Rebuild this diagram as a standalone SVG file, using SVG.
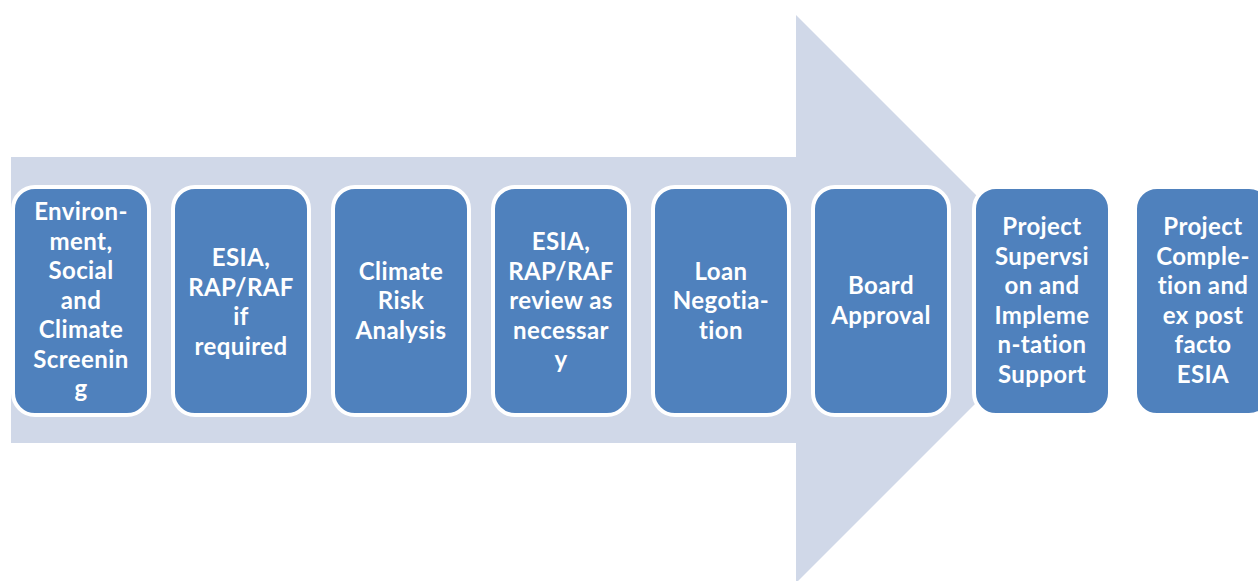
<svg xmlns="http://www.w3.org/2000/svg" width="1258" height="581" viewBox="0 0 1258 581">
<style>
.box{fill:#4F81BD;stroke:#FFFFFF;stroke-width:4}
.lbl{font-family:Lato,"Open Sans","Liberation Sans",sans-serif;font-weight:bold;font-size:24px;letter-spacing:0.4px;font-variant-ligatures:none;fill:#FFFFFF;text-anchor:middle}
</style>
<rect width="1258" height="581" fill="#FFFFFF"/>
<g id="arrow">
<polygon points="11,157 796,157 796,15 1080,299 796,583 796,443 11,443" fill="#D0D8E8"/>
</g>
<g id="connectors"></g>
<g id="n1">
<rect class="box" x="13" y="187" width="136" height="228" rx="22"/>
<text class="lbl"><tspan x="81" y="220">Environ-</tspan><tspan x="81" y="249.5">ment,</tspan><tspan x="81" y="279">Social</tspan><tspan x="81" y="308.5">and</tspan><tspan x="81" y="338">Climate</tspan><tspan x="81" y="367.5">Screenin</tspan><tspan x="81" y="397">g</tspan></text>
</g>
<g id="n2">
<rect class="box" x="173" y="187" width="136" height="228" rx="22"/>
<text class="lbl"><tspan x="241" y="266">ESIA,</tspan><tspan x="241" y="295.5">RAP/RAF</tspan><tspan x="241" y="325">if</tspan><tspan x="241" y="354.5">required</tspan></text>
</g>
<g id="n3">
<rect class="box" x="333" y="187" width="136" height="228" rx="22"/>
<text class="lbl"><tspan x="401" y="279.5">Climate</tspan><tspan x="401" y="309">Risk</tspan><tspan x="401" y="338.5">Analysis</tspan></text>
</g>
<g id="n4">
<rect class="box" x="493" y="187" width="136" height="228" rx="22"/>
<text class="lbl"><tspan x="561" y="250">ESIA,</tspan><tspan x="561" y="279.5">RAP/RAF</tspan><tspan x="561" y="309">review as</tspan><tspan x="561" y="338.5">necessar</tspan><tspan x="561" y="368">y</tspan></text>
</g>
<g id="n5">
<rect class="box" x="653" y="187" width="136" height="228" rx="22"/>
<text class="lbl"><tspan x="721" y="279.5">Loan</tspan><tspan x="721" y="309">Negotia-</tspan><tspan x="721" y="338.5">tion</tspan></text>
</g>
<g id="n6">
<rect class="box" x="813" y="187" width="136" height="228" rx="22"/>
<text class="lbl"><tspan x="881" y="294">Board</tspan><tspan x="881" y="323.5">Approval</tspan></text>
</g>
<g id="n7">
<rect class="box" x="974" y="187" width="136" height="228" rx="22"/>
<text class="lbl"><tspan x="1042" y="235">Project</tspan><tspan x="1042" y="264.5">Supervsi</tspan><tspan x="1042" y="294">on and</tspan><tspan x="1042" y="323.5">Impleme</tspan><tspan x="1042" y="353">n-tation</tspan><tspan x="1042" y="382.5">Support</tspan></text>
</g>
<g id="n8">
<rect class="box" x="1135" y="187" width="136" height="228" rx="22"/>
<text class="lbl"><tspan x="1203" y="235">Project</tspan><tspan x="1203" y="264.5">Comple-</tspan><tspan x="1203" y="294">tion and</tspan><tspan x="1203" y="323.5">ex post</tspan><tspan x="1203" y="353">facto</tspan><tspan x="1203" y="382.5">ESIA</tspan></text>
</g>
</svg>
